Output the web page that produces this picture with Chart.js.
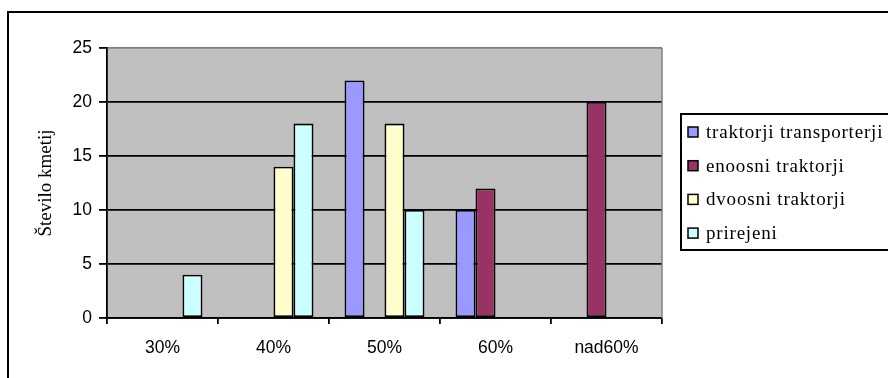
<!DOCTYPE html>
<html>
<head>
<meta charset="utf-8">
<script src="https://cdn.jsdelivr.net/npm/chart.js@4/dist/chart.umd.min.js"></script>
<style>
  html, body { margin: 0; padding: 0; background: #fff; overflow: hidden; }
  #wrap { width: 888px; height: 378px; }
</style>
</head>
<body>
<div id="wrap"><canvas id="c" width="888" height="378"></canvas></div>
<script>
// Število kmetij po deležu (kategorije na osi x)
const categories = ['30%', '40%', '50%', '60%', 'nad60%'];
const seriesNames = ['traktorji transporterji', 'enoosni traktorji', 'dvoosni traktorji', 'prirejeni'];
const transporterji = [null, null, 22, 10, null];
const enoosni = [null, null, null, 12, 20];
const dvoosni = [null, 14, 18, null, null];
const prirejeni = [4, 18, 10, null, null];
const yTicks = [0, 5, 10, 15, 20, 25];

const seriesValues = [transporterji, enoosni, dvoosni, prirejeni];
const seriesColors = ['#9999FF', '#993366', '#FFFFCC', '#CCFFFF'];

const SANS = '"Liberation Sans", Arial, sans-serif';
const SERIF = '"Liberation Serif", "Times New Roman", serif';

// Sivo ozadje risalne površine, okvir grafikona in legenda
const frame = {
  id: 'frame',
  beforeDraw(chart) {
    const { ctx, chartArea: a } = chart;
    ctx.save();
    ctx.fillStyle = '#fff';
    ctx.fillRect(0, 0, chart.width, chart.height);
    ctx.fillStyle = '#C0C0C0';
    ctx.fillRect(a.left, a.top, a.right - a.left, a.bottom - a.top);
    ctx.restore();
  },
  beforeDatasetsDraw(chart) {
    const { ctx, chartArea: a } = chart;
    ctx.save();
    ctx.strokeStyle = '#808080';
    ctx.lineWidth = 1.5;
    ctx.beginPath();
    ctx.moveTo(a.right, a.top);
    ctx.lineTo(a.right, a.bottom);
    ctx.stroke();
    ctx.restore();
  },
  afterDraw(chart) {
    const { ctx } = chart;
    ctx.save();
    // zunanji okvir
    ctx.strokeStyle = '#000';
    ctx.lineWidth = 2;
    ctx.strokeRect(8, 12, 1000, 1000);
    // legenda
    ctx.fillStyle = '#fff';
    ctx.fillRect(681, 114, 300, 136);
    ctx.strokeRect(681, 114, 300, 136);
    ctx.font = '19px ' + SERIF;
    ctx.letterSpacing = '0.8px';
    ctx.textBaseline = 'middle';
    ctx.textAlign = 'left';
    chart.data.datasets.forEach((ds, i) => {
      const y = 132 + i * 33.7;
      ctx.fillStyle = ds.backgroundColor;
      ctx.fillRect(688, y - 5, 10, 10);
      ctx.lineWidth = 1.5;
      ctx.strokeStyle = '#000';
      ctx.strokeRect(688, y - 5, 10, 10);
      ctx.fillStyle = '#000';
      ctx.fillText(ds.label, 706, y + 1);
    });
    ctx.restore();
  }
};

new Chart(document.getElementById('c'), {
  type: 'bar',
  data: {
    labels: categories,
    datasets: seriesNames.map((name, i) => ({
      label: name,
      data: seriesValues[i],
      backgroundColor: seriesColors[i],
      borderColor: '#000',
      borderWidth: 1.8,
      borderSkipped: false,
      categoryPercentage: 0.72,
      barPercentage: 1
    }))
  },
  options: {
    responsive: false,
    animation: false,
    layout: { padding: { left: 0, top: 48, right: 226, bottom: 0 } },
    plugins: { legend: { display: false }, tooltip: { enabled: false } },
    scales: {
      x: {
        grid: { offset: true, drawOnChartArea: false, drawTicks: true, tickLength: 6, color: '#000', lineWidth: 1.8 },
        border: { color: '#000', width: 1.8 },
        ticks: { color: '#000', font: { family: SANS, size: 17.5 }, padding: 14, maxRotation: 0, autoSkip: false },
        afterFit(s) { s.height = 60; }
      },
      y: {
        min: 0,
        max: 25,
        afterBuildTicks(s) { s.ticks = yTicks.map(v => ({ value: v })); },
        grid: {
          color: c => (c.tick && c.tick.value === 25 ? '#808080' : '#000'),
          tickColor: '#000',
          lineWidth: 1.8,
          tickLength: 8
        },
        border: { color: '#000', width: 1.8 },
        ticks: { color: '#000', font: { family: SANS, size: 17.5 }, padding: 7 },
        title: {
          display: true,
          text: 'Število kmetij',
          color: '#000',
          font: { family: SERIF, size: 19 },
          padding: { top: 35, bottom: 0 }
        },
        afterFit(s) { s.width = 107; }
      }
    }
  },
  plugins: [frame]
});
</script>
</body>
</html>
